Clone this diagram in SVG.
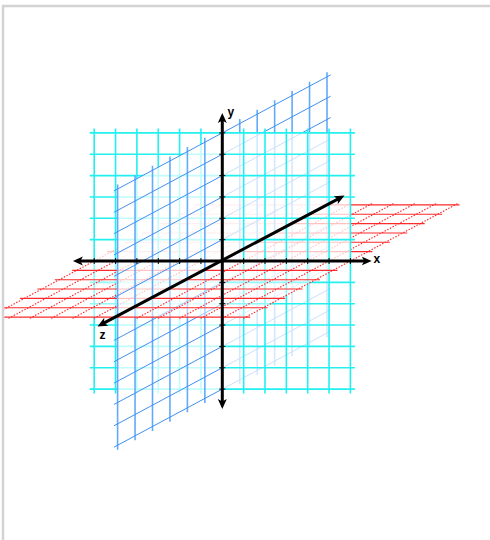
<svg xmlns="http://www.w3.org/2000/svg" xmlns:xlink="http://www.w3.org/1999/xlink" width="490" height="540" viewBox="0 0 490 540">
<defs>
<style>
.ln{fill:none;vector-effect:non-scaling-stroke}
.cf{fill:#fff;fill-opacity:.72}
.bf{fill:#fff;fill-opacity:.72}
.rf{fill:#fff;fill-opacity:.5}
.cy{stroke:#22f0f0;stroke-width:1.6}
.bv{stroke:#62aafa;stroke-width:1.6}
.bh{stroke:#3f90f0;stroke-width:1}
.rh{stroke:#ff2a2a;stroke-width:1.1}
.rv{stroke:#ff2020;stroke-width:1.1;stroke-dasharray:1.5 1.5}
.ax{stroke:#000;stroke-width:3;fill:none;marker-start:url(#ah);marker-end:url(#ah)}
.tk{stroke:#000;stroke-width:1;fill:none}
.lb{font-family:"Liberation Sans",Arial,sans-serif;font-size:12px;font-weight:bold;fill:#000}
</style>
<marker id="ah" markerUnits="userSpaceOnUse" markerWidth="12" markerHeight="10" viewBox="0 -5 12 10" refX="4" refY="0" orient="auto-start-reverse">
<path d="M0,-4.5 L10,0 L0,4.5 L2.5,0 Z" fill="#000"/>
</marker>
<rect id="qf" width="6" height="6"/>
<path id="qv" class="ln" d="M1 0V6.21M2 0V6.21M3 0V6.21M4 0V6.21M5 0V6.21M6 0V6.21"/>
<path id="qh" class="ln" d="M0 1H6.21M0 2H6.21M0 3H6.21M0 4H6.21M0 5H6.21M0 6H6.21"/>
<clipPath id="clip"><rect x="4.3" y="7.2" width="490" height="540"/></clipPath>
</defs>
<rect width="490" height="540" fill="#fff"/>
<rect x="3" y="6" width="520" height="560" fill="none" stroke="#d3d3d3" stroke-width="2.5"/>
<g clip-path="url(#clip)">
<g id="planes">
<g id="cyan-mm" transform="matrix(21.35 0 0 -21.35 222.3 261) scale(-1 -1)"><use href="#qf" class="cf"/><use href="#qv" class="cy"/><use href="#qh" class="cy"/></g>
<g id="blue-mm" transform="matrix(-17.45 9.35 0 -21.35 222.3 261) scale(-1 -1)"><use href="#qf" class="bf"/><use href="#qv" class="bv"/><use href="#qh" class="bh"/></g>
<g id="red-mm" transform="matrix(21.35 0 -17.45 9.35 222.3 261) scale(-1 -1)"><use href="#qf" class="rf"/><use href="#qv" class="rv"/><use href="#qh" class="rh"/></g>
<g id="cyan-pm" transform="matrix(21.35 0 0 -21.35 222.3 261) scale(1 -1)"><use href="#qf" class="cf"/><use href="#qv" class="cy"/><use href="#qh" class="cy"/></g>
<g id="cyan-mp" transform="matrix(21.35 0 0 -21.35 222.3 261) scale(-1 1)"><use href="#qf" class="cf"/><use href="#qv" class="cy"/><use href="#qh" class="cy"/></g>
<g id="blue-mp" transform="matrix(-17.45 9.35 0 -21.35 222.3 261) scale(-1 1)"><use href="#qf" class="bf"/><use href="#qv" class="bv"/><use href="#qh" class="bh"/></g>
<g id="blue-pm" transform="matrix(-17.45 9.35 0 -21.35 222.3 261) scale(1 -1)"><use href="#qf" class="bf"/><use href="#qv" class="bv"/><use href="#qh" class="bh"/></g>
<g id="red-pm" transform="matrix(21.35 0 -17.45 9.35 222.3 261) scale(1 -1)"><use href="#qf" class="rf"/><use href="#qv" class="rv"/><use href="#qh" class="rh"/></g>
<g id="red-mp" transform="matrix(21.35 0 -17.45 9.35 222.3 261) scale(-1 1)"><use href="#qf" class="rf"/><use href="#qv" class="rv"/><use href="#qh" class="rh"/></g>
<g id="cyan-pp" transform="matrix(21.35 0 0 -21.35 222.3 261)"><use href="#qf" class="cf"/><use href="#qv" class="cy"/><use href="#qh" class="cy"/></g>
<g id="blue-pp" transform="matrix(-17.45 9.35 0 -21.35 222.3 261)"><use href="#qf" class="bf"/><use href="#qv" class="bv"/><use href="#qh" class="bh"/></g>
<g id="red-pp" transform="matrix(21.35 0 -17.45 9.35 222.3 261)"><use href="#qf" class="rf"/><use href="#qv" class="rv"/><use href="#qh" class="rh"/></g>
</g>
<g id="axes">
<path class="ax" d="M78.9 261H365.7"/>
<path class="ax" d="M222.3 403V119"/>
<path class="ax" d="M102.8 323.6L339.2 198.3"/>
<path class="tk" d="M94.2 258v6M115.6 258v6M136.9 258v6M158.3 258v6M179.6 258v6M200.95 258v6M243.65 258v6M265 258v6M286.35 258v6M307.7 258v6M329.05 258v6M350.4 258v6M219.3 132.9h6M219.3 154.25h6M219.3 175.6h6M219.3 196.95h6M219.3 218.3h6M219.3 239.65h6M219.3 282.35h6M219.3 303.7h6M219.3 325.05h6M219.3 346.4h6M219.3 367.75h6M219.3 389.1h6"/>
<text class="lb" x="373.5" y="262.5">x</text>
<text class="lb" x="227.5" y="116">y</text>
<text class="lb" x="99.5" y="338.5">z</text>
</g>
</g>
</svg>
